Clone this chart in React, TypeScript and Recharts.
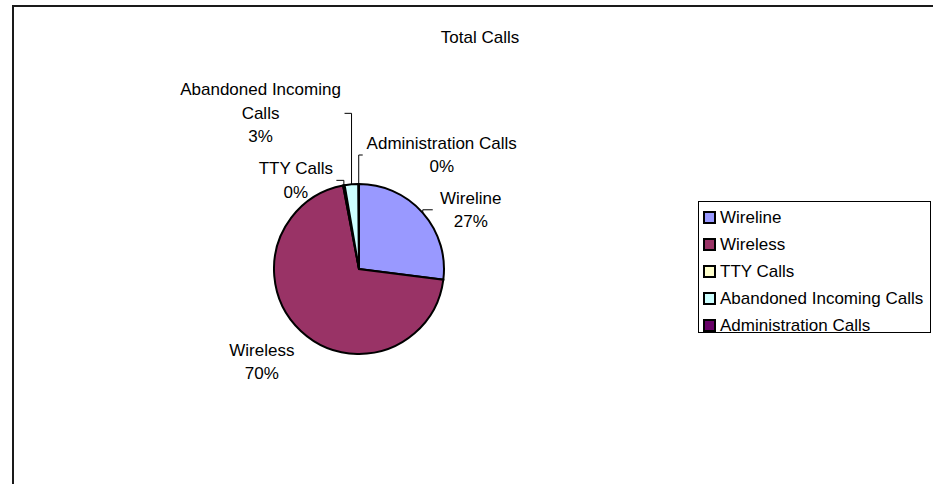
import React from "react";
import { PieChart, Pie, Cell, Legend } from "recharts";

const chartTitle = "Total Calls";
const categories = [
  "Wireline",
  "Wireless",
  "TTY Calls",
  "Abandoned Incoming Calls",
  "Administration Calls",
];
const callShares = [27.0, 70.0, 0.3, 2.6, 0.1];
const sliceColors = ["#9999FF", "#993366", "#FFFFCC", "#CCFFFF", "#660066"];

// label placement (offset of text block centre from slice edge point), leader horizontal reach
const labelLayout = [
  { dx: 48, dy: -3, lead: 10 },
  { dx: -39, dy: 31, lead: null },
  { dx: -48, dy: -5, lead: -7.5 },
  { dx: -91, dy: -71, lead: -7 },
  { dx: 83, dy: -29, lead: 4 },
];

const FONT = "'Liberation Sans', Arial, sans-serif";
const RADIAN = Math.PI / 180;
const LINE_H = 23.5;

const data = categories.map((name, i) => ({ name, value: callShares[i] }));

function wrap(name: string, max = 20): string[] {
  if (name.length <= max) return [name];
  const words = name.split(" ");
  const lines: string[] = [];
  let cur = "";
  for (const w of words) {
    const next = cur ? cur + " " + w : w;
    if (next.length > max && cur) {
      lines.push(cur);
      cur = w;
    } else cur = next;
  }
  if (cur) lines.push(cur);
  return lines;
}

const renderLabel = (props: any) => {
  const { cx, cy, midAngle, outerRadius, percent, index, name } = props;
  const ax = cx + outerRadius * Math.cos(-midAngle * RADIAN);
  const ay = cy + outerRadius * Math.sin(-midAngle * RADIAN);
  const lay = labelLayout[index];
  const tx = ax + lay.dx;
  const ty = ay + lay.dy;
  const lines = [...wrap(String(name)), `${Math.round(percent * 100)}%`];
  const n = lines.length;
  return (
    <g key={`lbl-${index}`}>
      {lay.lead !== null && (
        <path
          d={`M${ax},${ay} L${ax},${ty} L${ax + (lay.lead as number)},${ty}`}
          stroke="#000"
          strokeWidth={1}
          fill="none"
        />
      )}
      {lines.map((ln, i) => (
        <text
          key={i}
          x={tx}
          y={ty + (i - (n - 1) / 2) * LINE_H}
          textAnchor="middle"
          dominantBaseline="central"
          fontFamily={FONT}
          fontSize={17}
          fill="#000"
        >
          {ln}
        </text>
      ))}
    </g>
  );
};

const renderLegend = () => (
  <div
    style={{
      border: "1px solid #000",
      background: "#fff",
      width: 233,
      height: 132,
      boxSizing: "border-box",
      paddingTop: 2,
      fontFamily: FONT,
      fontSize: 17,
    }}
  >
    {categories.map((c, i) => (
      <div
        key={c}
        style={{ display: "flex", alignItems: "center", height: 27, whiteSpace: "nowrap" }}
      >
        <span
          style={{
            display: "inline-block",
            width: 9,
            height: 9,
            border: "2px solid #000",
            background: sliceColors[i],
            marginLeft: 4,
            marginRight: 4,
          }}
        />
        <span>{c}</span>
      </div>
    ))}
  </div>
);

export default function App() {
  return (
    <div
      style={{
        position: "absolute",
        left: 0,
        top: 0,
        width: 933,
        height: 484,
        overflow: "hidden",
        background: "#fff",
      }}
    >
      <div
        style={{
          position: "absolute",
          left: 12,
          top: 5,
          width: 940,
          height: 500,
          borderLeft: "2px solid #1a1a1a",
          borderTop: "2px solid #1a1a1a",
        }}
      />
      <div
        style={{
          position: "absolute",
          left: 380,
          top: 28,
          width: 200,
          lineHeight: "20px",
          textAlign: "center",
          fontFamily: FONT,
          fontSize: 17,
          color: "#000",
        }}
      >
        {chartTitle}
      </div>
      <div style={{ position: "absolute", left: 0, top: 0 }}>
        <PieChart width={933} height={484} margin={{ top: 0, right: 0, bottom: 0, left: 0 }}>
          <Pie
            data={data}
            dataKey="value"
            nameKey="name"
            cx={359}
            cy={269}
            outerRadius={85}
            startAngle={90}
            endAngle={-270}
            stroke="#000"
            strokeWidth={2}
            label={renderLabel}
            labelLine={false}
            isAnimationActive={false}
          >
            {data.map((d, i) => (
              <Cell key={d.name} fill={sliceColors[i]} />
            ))}
          </Pie>
          <Legend
            layout="horizontal"
            verticalAlign="middle"
            align="right"
            content={renderLegend}
            wrapperStyle={{ position: "absolute", left: 698, top: 201, width: 235, height: 133, right: "auto", bottom: "auto" }}
          />
        </PieChart>
      </div>
    </div>
  );
}
